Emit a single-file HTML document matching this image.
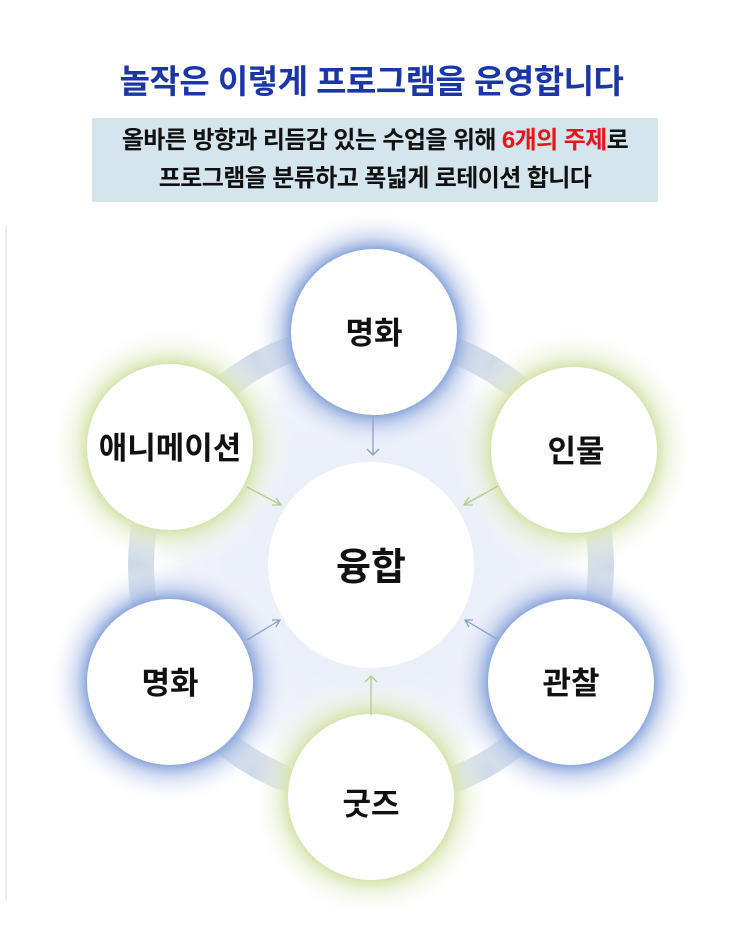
<!DOCTYPE html>
<html><head><meta charset="utf-8"><style>
html,body{margin:0;padding:0;background:#fff;}
body{width:743px;height:946px;position:relative;overflow:hidden;font-family:"Liberation Sans","Noto Sans CJK KR",sans-serif;}
.t{position:absolute;left:0;width:743px;text-align:center;top:55px;font-size:33px;font-weight:bold;color:#1b36a6;letter-spacing:-0.5px;}
.box{position:absolute;left:92px;top:118px;width:566px;height:84px;background:#d5e5ee;text-align:center;font-size:24px;font-weight:bold;color:#111;line-height:38px;padding-top:4px;box-sizing:border-box;letter-spacing:-0.6px;white-space:nowrap;}
.r{color:#e8141b;}
svg{position:absolute;left:0;top:0;}
</style></head><body>
<div class="t">놀작은 이렇게 프로그램을 운영합니다</div>
<div class="box">올바른 방향과 리듬감 있는 수업을 위해 <span class="r">6개의 주제</span>로<br>프로그램을 분류하고 폭넓게 로테이션 합니다</div>
<svg width="743" height="946" viewBox="0 0 743 946" font-family="Liberation Sans, Noto Sans CJK KR, sans-serif">
<defs>
<radialGradient id="gb"><stop offset="0.68" stop-color="#8fa9dc"/><stop offset="0.78" stop-color="#b9c8ea" stop-opacity="0.6"/><stop offset="1" stop-color="#fff" stop-opacity="0"/></radialGradient>
<radialGradient id="gg"><stop offset="0.68" stop-color="#d6e4ae"/><stop offset="0.78" stop-color="#e6eecd" stop-opacity="0.6"/><stop offset="1" stop-color="#fff" stop-opacity="0"/></radialGradient>
<radialGradient id="gc"><stop offset="0.4" stop-color="#eef2fa"/><stop offset="1" stop-color="#fff" stop-opacity="0"/></radialGradient>
<filter id="bl"><feGaussianBlur stdDeviation="14"/></filter>
</defs>
<line x1="6" y1="225" x2="6" y2="900" stroke="#e6e6e6" stroke-width="1.5"/>
<circle cx="371" cy="565" r="230" fill="url(#gc)"/>
<polygon points="374,332 574,450 571,682 371,797 170,682 170,447" fill="#e8edf8" filter="url(#bl)" opacity="0.7"/>
<circle cx="371" cy="565" r="230" fill="none" stroke="#cdd8e6" stroke-width="26"/>
<circle cx="374" cy="332" r="122" fill="url(#gb)"/>
<circle cx="574" cy="450" r="122" fill="url(#gg)"/>
<circle cx="571" cy="682" r="122" fill="url(#gb)"/>
<circle cx="371" cy="797" r="122" fill="url(#gg)"/>
<circle cx="170" cy="682" r="122" fill="url(#gb)"/>
<circle cx="170" cy="447" r="122" fill="url(#gg)"/>
<circle cx="371" cy="565" r="112" fill="#eaeff9" filter="url(#bl)"/>
<circle cx="371" cy="565" r="103" fill="#fff"/>
<g fill="#fff">
<circle cx="374" cy="332" r="83"/><circle cx="574" cy="450" r="83"/><circle cx="571" cy="682" r="83"/>
<circle cx="371" cy="797" r="83"/><circle cx="170" cy="682" r="83"/><circle cx="170" cy="447" r="83"/>
</g>
<g fill="none" stroke-width="1.3">
<path d="M373 416 V455 M367 449 L373 455 L379 449" stroke="#8aa0cc"/>
<path d="M371 715 V676 M365 682 L371 676 L377 682" stroke="#b5cc8c"/>
<path d="M247 487 L281 505 M272 505 L281 505 L276 498" stroke="#b5cc8c"/>
<path d="M498 486 L464 505 M469 497 L464 505 L473 505" stroke="#b5cc8c"/>
<path d="M247 640 L280 620 M272 620 L280 620 L276 627" stroke="#8aa0cc"/>
<path d="M497 639 L465 620 M473 620 L465 620 L469 627" stroke="#8aa0cc"/>
</g>
<g font-size="31" font-weight="bold" fill="#111" text-anchor="middle">
<text x="374" y="344">명화</text>
<text x="576" y="462">인물</text>
<text x="571" y="694">관찰</text>
<text x="371" y="815">굿즈</text>
<text x="170" y="694">명화</text>
<text x="170" y="459">애니메이션</text>
<text x="371" y="580" font-size="38">융합</text>
</g>
</svg>
</body></html>
